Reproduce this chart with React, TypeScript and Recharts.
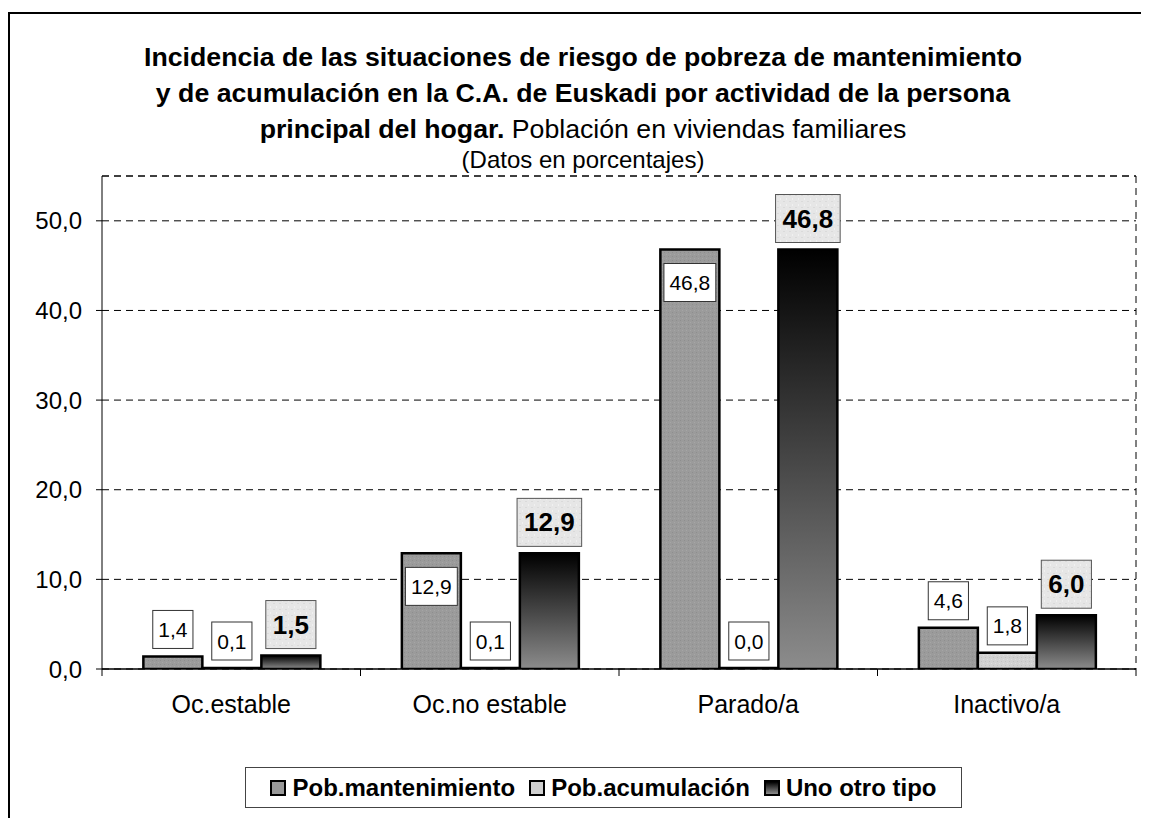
import React from "react";
import {
  BarChart,
  Bar,
  XAxis,
  YAxis,
  CartesianGrid,
  ReferenceLine,
  LabelList,
} from "recharts";

const CATEGORIES = ["Oc.estable", "Oc.no estable", "Parado/a", "Inactivo/a"];
const MANTENIMIENTO = [1.4, 12.9, 46.8, 4.6];
const ACUMULACION = [0.1, 0.1, 0.0, 1.8];
const OTRO_TIPO = [1.5, 12.9, 46.8, 6.0];
const Y_TICKS = [0, 10, 20, 30, 40, 50];
const Y_MAX = 55;

const SERIES = [
  { key: "mant", name: "Pob.mantenimiento", fill: "url(#patMant)", swatch: "#999999" },
  { key: "acum", name: "Pob.acumulación", fill: "url(#patAcum)", swatch: "#d0d0d0" },
  { key: "otro", name: "Uno otro tipo", fill: "url(#gradOtro)", swatch: "linear-gradient(#000, #8c8c8c)" },
];

const data = CATEGORIES.map((name, i) => ({
  name,
  mant: MANTENIMIENTO[i],
  acum: ACUMULACION[i],
  otro: OTRO_TIPO[i],
}));

const FONT = '"Liberation Sans", Arial, sans-serif';
const fmt = (v: number) => v.toFixed(1).replace(".", ",");

function boxWidth(text: string, size: number, bold: boolean) {
  let w = 0;
  for (const ch of text) w += ch === "," ? 0.278 : 0.556;
  return w * size + (bold ? 14 : 11);
}

// white boxes for the first two series; big values get the label inside the bar
function PlainLabel(props: any, inside: boolean) {
  const { x, y, width, value } = props;
  const text = fmt(Number(value));
  const w = boxWidth(text, 21, false);
  const h = 38;
  const cx = x + width / 2;
  const top = inside && value > 10 ? y + 14 : y - 8 - h;
  return (
    <g>
      <rect x={cx - w / 2} y={top} width={w} height={h} fill="#fff" stroke="#333" strokeWidth={1} />
      <text x={cx} y={top + h / 2 + 7.5} textAnchor="middle" fontSize={21} fontFamily={FONT} fill="#000">
        {text}
      </text>
    </g>
  );
}

function BoldLabel(props: any) {
  const { x, y, width, value } = props;
  const text = fmt(Number(value));
  const w = boxWidth(text, 26, true);
  const h = 48;
  const cx = x + width / 2;
  const top = y - 7 - h;
  return (
    <g>
      <rect x={cx - w / 2} y={top} width={w} height={h} fill="url(#patLabel)" stroke="#555" strokeWidth={1} />
      <text x={cx} y={top + h / 2 + 9} textAnchor="middle" fontSize={26} fontWeight="bold" fontFamily={FONT} fill="#000">
        {text}
      </text>
    </g>
  );
}

function XTick(props: any) {
  const { x, y, payload, index, width, visibleTicksCount } = props;
  const band = width / visibleTicksCount;
  return (
    <g>
      <line x1={x - band / 2} y1={y} x2={x - band / 2} y2={y + 7} stroke="#000" />
      {index === visibleTicksCount - 1 && (
        <line x1={x + band / 2} y1={y} x2={x + band / 2} y2={y + 7} stroke="#000" />
      )}
      <text x={x} y={y + 44} textAnchor="middle" fontSize={25} fontFamily={FONT} fill="#000">
        {payload.value}
      </text>
    </g>
  );
}

export default function App() {
  return (
    <div style={{ position: "relative", width: 1141, height: 810, fontFamily: FONT, background: "#fff" }}>
      <div
        style={{
          position: "absolute",
          left: 0,
          top: 4,
          width: 1141,
          height: 806,
          borderTop: "2px solid #000",
          borderLeft: "2px solid #000",
          boxSizing: "border-box",
        }}
      />
      <div
        style={{
          position: "absolute",
          left: 0,
          top: 31,
          width: 1150,
          textAlign: "center",
          fontSize: 26.7,
          lineHeight: "36px",
          fontWeight: "bold",
          color: "#000",
        }}
      >
        <div>Incidencia de las situaciones de riesgo de pobreza de mantenimiento</div>
        <div>y de acumulación en la C.A. de Euskadi por actividad de la persona</div>
        <div>
          principal del hogar.<span style={{ fontWeight: "normal" }}> Población en viviendas familiares</span>
        </div>
      </div>
      <div
        style={{
          position: "absolute",
          left: 0,
          top: 138,
          width: 1150,
          textAlign: "center",
          fontSize: 24,
          lineHeight: "28px",
          color: "#000",
        }}
      >
        (Datos en porcentajes)
      </div>

      <div style={{ position: "absolute", left: 0, top: 0 }}>
        <BarChart
          width={1141}
          height={810}
          data={data}
          margin={{ top: 168, right: 13, bottom: 109, left: 0 }}
          barCategoryGap="16%"
          barGap={0}
        >
          <defs>
            <linearGradient id="gradOtro" x1="0" y1="0" x2="0" y2="1">
              <stop offset="0%" stopColor="#000000" />
              <stop offset="100%" stopColor="#8c8c8c" />
            </linearGradient>
            <pattern id="patMant" width="4" height="4" patternUnits="userSpaceOnUse">
              <rect width="4" height="4" fill="#9b9b9b" />
              <rect x="0" y="0" width="1" height="1" fill="#8e8e8e" />
              <rect x="2" y="2" width="1" height="1" fill="#a6a6a6" />
            </pattern>
            <pattern id="patAcum" width="4" height="4" patternUnits="userSpaceOnUse">
              <rect width="4" height="4" fill="#d2d2d2" />
              <rect x="1" y="1" width="1" height="1" fill="#c2c2c2" />
              <rect x="3" y="3" width="1" height="1" fill="#dedede" />
            </pattern>
            <pattern id="patLabel" width="6" height="6" patternUnits="userSpaceOnUse">
              <rect width="6" height="6" fill="#e6e6e6" />
              <rect x="1" y="1" width="2" height="1" fill="#dadada" />
              <rect x="4" y="4" width="1" height="2" fill="#f0f0f0" />
            </pattern>
          </defs>
          <CartesianGrid
            stroke="#000"
            strokeDasharray="7 5"
            verticalCoordinatesGenerator={({ offset }: any) => [offset.left + offset.width]}
          />
          <ReferenceLine y={Y_MAX} stroke="#000" strokeDasharray="7 5" />
          <XAxis
            dataKey="name"
            height={40}
            tickLine={false}
            tickSize={0}
            tickMargin={0}
            axisLine={{ stroke: "#000", strokeWidth: 1.5 }}
            tick={<XTick />}
            interval={0}
          />
          <YAxis
            width={94}
            domain={[0, Y_MAX]}
            ticks={Y_TICKS}
            tickFormatter={fmt}
            tickSize={6}
            tickMargin={14}
            axisLine={{ stroke: "#000" }}
            tickLine={{ stroke: "#000" }}
            tick={{ fontSize: 24, fill: "#000", fontFamily: FONT }}
            allowDataOverflow
          />
          <Bar dataKey="mant" name={SERIES[0].name} fill={SERIES[0].fill} stroke="#000" strokeWidth={2.5} isAnimationActive={false}>
            <LabelList dataKey="mant" content={(p: any) => PlainLabel(p, true)} />
          </Bar>
          <Bar
            dataKey="acum"
            name={SERIES[1].name}
            fill={SERIES[1].fill}
            stroke="#000"
            strokeWidth={2.5}
            minPointSize={1}
            isAnimationActive={false}
          >
            <LabelList dataKey="acum" content={(p: any) => PlainLabel(p, false)} />
          </Bar>
          <Bar dataKey="otro" name={SERIES[2].name} fill={SERIES[2].fill} stroke="#000" strokeWidth={2.5} isAnimationActive={false}>
            <LabelList dataKey="otro" content={(p: any) => BoldLabel(p)} />
          </Bar>
        </BarChart>
      </div>

      <div
        style={{
          position: "absolute",
          left: 237,
          top: 759,
          width: 717,
          height: 41,
          border: "1px solid #444",
          boxSizing: "border-box",
          background: "#fff",
          display: "flex",
          alignItems: "center",
          justifyContent: "center",
          gap: 14,
          fontSize: 24,
          fontWeight: "bold",
          color: "#000",
        }}
      >
        {SERIES.map((s) => (
          <div key={s.key} style={{ display: "flex", alignItems: "center", gap: 6 }}>
            <div style={{ width: 12, height: 12, border: "2px solid #000", background: s.swatch }} />
            <span>{s.name}</span>
          </div>
        ))}
      </div>
    </div>
  );
}
